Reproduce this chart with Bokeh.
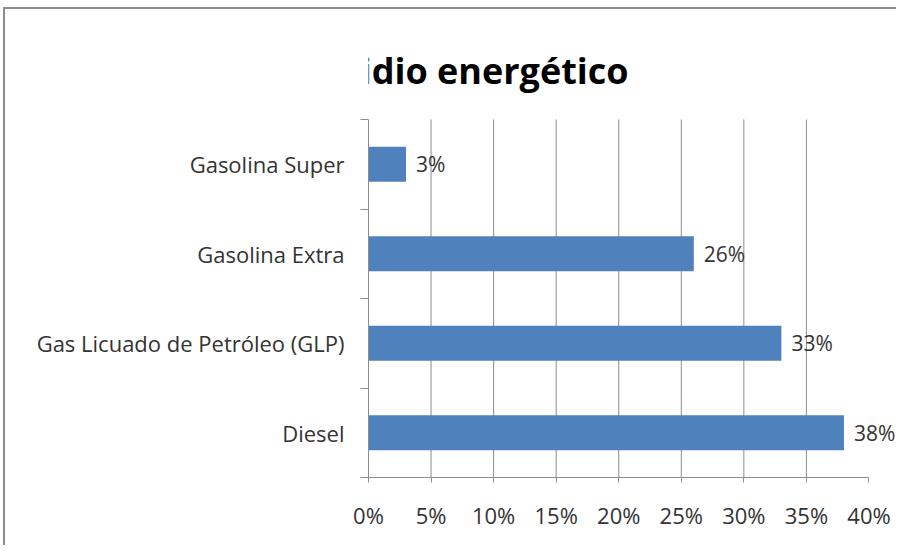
from bokeh.plotting import figure
from bokeh.models import (Range1d, LinearAxis, FixedTicker, Label,
                          NumeralTickFormatter, ColumnDataSource, LabelSet)
from bokeh.core.properties import value
from bokeh.embed import file_html
from bokeh.resources import INLINE

# ---- data ----
categories = ["Diesel", "Gas Licuado de Petróleo (GLP)", "Gasolina Extra", "Gasolina Super"]
values = [0.38, 0.33, 0.26, 0.03]
x_ticks = [0.0, 0.05, 0.10, 0.15, 0.20, 0.25, 0.30, 0.35, 0.40]
grid_ticks = [0.05, 0.10, 0.15, 0.20, 0.25, 0.30, 0.35]
title_text = "Subsidio energético"

labels = [f"{round(v * 100)}%" for v in values]
n = len(categories)
centers = [i + 0.5 for i in range(n)]          # category slots, bottom to top
bounds = list(range(n + 1))

FONT = "Open Sans"
GRAY = "#8c8c8c"
TXT = "#333333"

# layout: the plot frame also covers the title area above the bars
PLOT_AREA_PX = 358      # height of the bar area
TITLE_AREA_PX = 110     # extra frame height above it, holding the title
y_top = n * (PLOT_AREA_PX + TITLE_AREA_PX) / PLOT_AREA_PX

p = figure(width=893, height=538, output_backend="svg", toolbar_location=None,
           title=None,
           y_range=Range1d(0, y_top), x_range=Range1d(0, 0.4236),
           x_axis_location=None, y_axis_location=None,
           min_border_left=363, min_border_right=0, min_border_top=0, min_border_bottom=70)
p.margin = (7, 0, 0, 3)
p.styles = {"border-top": f"2px solid {GRAY}", "border-left": f"2px solid {GRAY}"}
p.outline_line_color = None
p.background_fill_color = "white"
p.border_fill_color = "white"

for g in p.grid:
    g.visible = False

# vertical grid lines, limited to the bar area
gsrc = ColumnDataSource(data=dict(g=grid_ticks))
p.segment(x0="g", y0=0, x1="g", y1=n, source=gsrc,
          line_color=GRAY, line_width=1, level="underlay")

# boundary ticks for categories (inner left axis)
tick_axis = LinearAxis(ticker=FixedTicker(ticks=bounds, minor_ticks=[]),
                       bounds=(0, n),
                       major_tick_out=8, major_tick_in=0,
                       major_tick_line_color=GRAY, axis_line_color=GRAY,
                       minor_tick_line_color=None,
                       major_label_text_font_size="0px", major_label_standoff=0,
                       major_label_overrides={b: "" for b in bounds})
p.add_layout(tick_axis, "left")

# category names (outer left axis, no line/ticks)
cat_axis = LinearAxis(ticker=FixedTicker(ticks=centers, minor_ticks=[]),
                      major_label_overrides={c: name for c, name in zip(centers, categories)},
                      major_tick_line_color=None, axis_line_color=None,
                      minor_tick_line_color=None,
                      major_label_standoff=10,
                      major_label_text_font=FONT, major_label_text_font_size="22px",
                      major_label_text_color=TXT)
p.add_layout(cat_axis, "left")

x_axis = LinearAxis(ticker=FixedTicker(ticks=x_ticks, minor_ticks=[]),
                    formatter=NumeralTickFormatter(format="0%"),
                    bounds=(0, 0.40),
                    major_tick_out=5, major_tick_in=0,
                    major_tick_line_color=GRAY, axis_line_color=GRAY,
                    minor_tick_line_color=None,
                    major_label_standoff=17,
                    major_label_text_font=FONT, major_label_text_font_size="22px",
                    major_label_text_color=TXT)
p.add_layout(x_axis, "below")

src = ColumnDataSource(data=dict(y=centers, val=values, lab=labels))
p.hbar(y="y", right="val", left=0, height=0.39, source=src,
       fill_color="#4F81BD", line_color=None)

p.add_layout(LabelSet(x="val", y="y", text="lab", source=src,
                      x_offset=10, y_offset=0, text_baseline="middle",
                      text_font=value(FONT), text_font_size="21px", text_color=TXT))

# chart title, anchored to the top-left corner of the bar area (inside the frame)
p.add_layout(Label(x=0, y=n, x_offset=-92, y_offset=49.5, text=title_text,
                   text_baseline="alphabetic", text_align="left",
                   text_font=FONT, text_font_style="bold",
                   text_font_size="36px", text_color="black"))

open("out.html", "w").write(file_html(p, INLINE))
